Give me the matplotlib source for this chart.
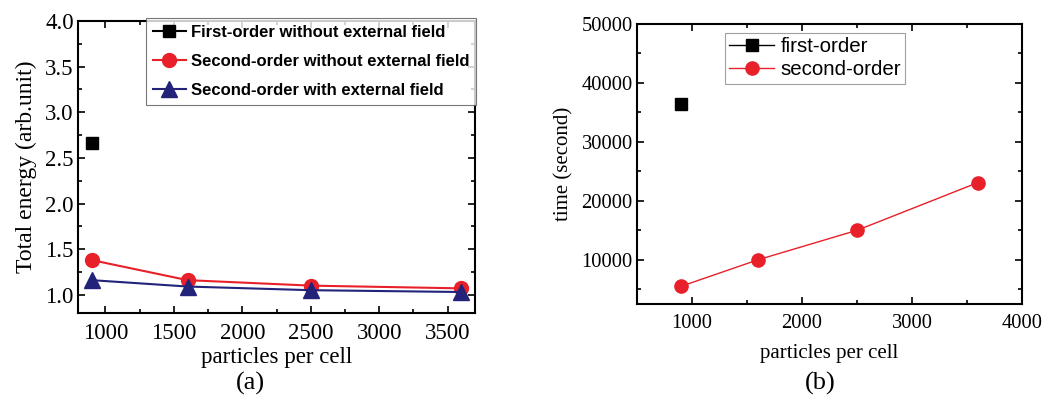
import matplotlib.pyplot as plt
from matplotlib.ticker import MultipleLocator

# data
ppc = [900, 1600, 2500, 3600]
first_x = [900]
first_energy = [2.66]
second_energy_nofield = [1.38, 1.16, 1.10, 1.07]
second_energy_field = [1.16, 1.09, 1.05, 1.03]
first_time = [36500]
second_time = [5500, 10000, 15000, 23100]

serif = 'Liberation Serif'
sans = 'Liberation Sans'

fig = plt.figure(figsize=(10.53, 4.12), dpi=100)

# (a) total energy
ax1 = fig.add_axes([78 / 1053, 1 - 313 / 412, 397 / 1053, 292 / 412])
ax1.plot(first_x, first_energy, color='black', marker='s', ms=9, lw=1.5,
         label='First-order without external field')
ax1.plot(ppc, second_energy_nofield, color='#e8202a', marker='o', ms=10, lw=1.5,
         label='Second-order without external field')
ax1.plot(ppc, second_energy_field, color='#23237a', marker='^', ms=11, lw=1.5,
         label='Second-order with external field')
ax1.set_xlim(800, 3700)
ax1.set_ylim(0.8, 4.0)
ax1.xaxis.set_major_locator(MultipleLocator(500))
ax1.xaxis.set_minor_locator(MultipleLocator(250))
ax1.yaxis.set_major_locator(MultipleLocator(0.5))
ax1.yaxis.set_minor_locator(MultipleLocator(0.25))
ax1.set_yticks([1.0, 1.5, 2.0, 2.5, 3.0, 3.5, 4.0])
ax1.set_xlabel('particles per cell', fontsize=16.5, family=serif, labelpad=2)
ax1.set_ylabel('Total energy (arb.unit)', fontsize=17, family=serif, labelpad=6)
leg1 = ax1.legend(loc='upper right', bbox_to_anchor=(1.003, 1.01), frameon=True, fancybox=False,
                  edgecolor='#555555', handlelength=2.0, handletextpad=0.3, labelspacing=0.85,
                  borderaxespad=0, borderpad=0.4,
                  prop={'family': sans, 'weight': 'bold', 'size': 12})
leg1.get_frame().set_linewidth(0.8)
fig.text(250 / 1053, 1 - 383 / 412, '(a)', ha='center', va='center', fontsize=19, family=serif)

# (b) time
ax2 = fig.add_axes([637 / 1053, 1 - 304 / 412, 385 / 1053, 280 / 412])
ax2.plot(first_x, first_time, color='black', marker='s', ms=8, lw=1,
         label='first-order')
ax2.plot(ppc, second_time, color='#e8202a', marker='o', ms=9.5, lw=1,
         label='second-order')
ax2.set_xlim(500, 4000)
ax2.set_ylim(2500, 50000)
ax2.xaxis.set_major_locator(MultipleLocator(1000))
ax2.xaxis.set_minor_locator(MultipleLocator(500))
ax2.set_yticks([10000, 20000, 30000, 40000, 50000])
ax2.yaxis.set_minor_locator(MultipleLocator(5000))
ax2.set_xlabel('particles per cell', fontsize=15, family=serif, labelpad=8)
ax2.set_ylabel('time (second)', fontsize=15, family=serif, labelpad=6)
leg2 = ax2.legend(loc='upper left', bbox_to_anchor=(0.228, 0.967), frameon=True, fancybox=False,
                  edgecolor='#888888', handlelength=2.2, handletextpad=0.3, labelspacing=0.2,
                  borderaxespad=0, borderpad=0.2, prop={'family': sans, 'size': 14.8})
leg2.get_frame().set_linewidth(0.8)
fig.text(820 / 1053, 1 - 383 / 412, '(b)', ha='center', va='center', fontsize=19, family=serif)

for ax, fs in ((ax1, 16.5), (ax2, 14.8)):
    ax.tick_params(which='both', direction='in', top=True, right=True, width=1.2)
    ax.tick_params(which='major', length=5, labelsize=fs, pad=3)
    ax.tick_params(which='minor', length=3)
    ax.tick_params(axis='x', which='major', pad=7)
    for lab in ax.get_xticklabels() + ax.get_yticklabels():
        lab.set_family(serif)
    for s in ax.spines.values():
        s.set_linewidth(1.5)

fig.savefig('out.png', dpi=100)
